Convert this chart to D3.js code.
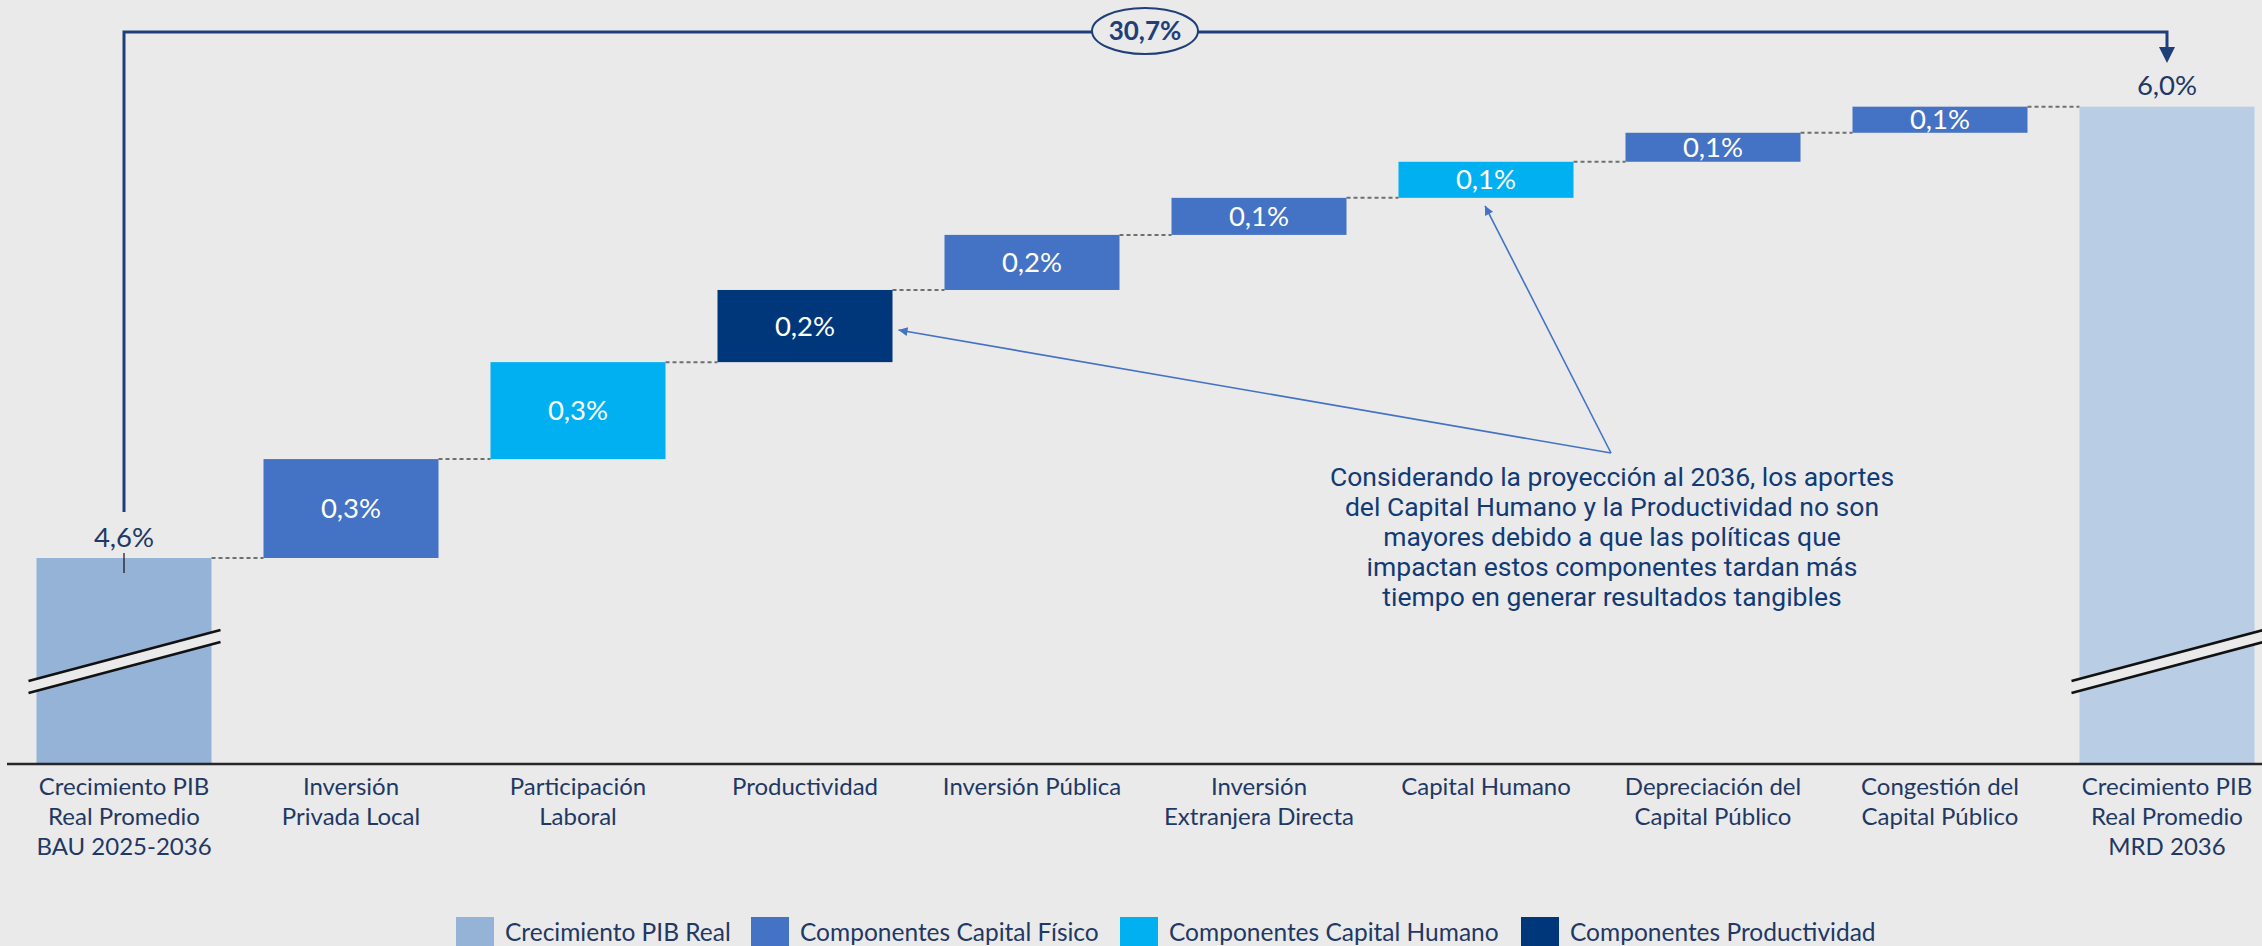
<!DOCTYPE html>
<html>
<head>
<meta charset="utf-8">
<script src="https://cdn.jsdelivr.net/npm/d3@7"></script>
<style>
    body { margin: 0; background: #eaeaea; overflow: hidden; }
    .cat { font-family: Lato, sans-serif; font-size: 24px; fill: #1f3864; }
    .lbl { font-family: Lato, sans-serif; font-size: 27.5px; }
    .leg { font-family: Lato, sans-serif; font-size: 24.5px; fill: #1f3864; }
    .note { font-family: Roboto, sans-serif; font-size: 26.5px; fill: #123a74; }
</style>
</head>
<body>
<svg id="chart"></svg>
<script>
    // chart data
    const categories = [
        ["Crecimiento PIB", "Real Promedio", "BAU 2025-2036"],
        ["Inversión", "Privada Local"],
        ["Participación", "Laboral"],
        ["Productividad"],
        ["Inversión Pública"],
        ["Inversión", "Extranjera Directa"],
        ["Capital Humano"],
        ["Depreciación del", "Capital Público"],
        ["Congestión del", "Capital Público"],
        ["Crecimiento PIB", "Real Promedio", "MRD 2036"]
    ];
    const startValue = 4.6;
    const deltas = [0.307, 0.301, 0.224, 0.171, 0.115, 0.112, 0.090, 0.081];
    const groups = ["pib", "fisico", "humano", "prod", "fisico", "fisico", "humano", "fisico", "fisico", "pib"];
    const legendKeys = ["pib", "fisico", "humano", "prod"];
    const legendLabels = ["Crecimiento PIB Real", "Componentes Capital Físico", "Componentes Capital Humano", "Componentes Productividad"];
    const growthLabel = "30,7%";
    const noteLines = [
        "Considerando la proyección al 2036, los aportes",
        "del Capital Humano y la Productividad no son",
        "mayores debido a que las políticas que",
        "impactan estos componentes tardan más",
        "tiempo en generar resultados tangibles"
    ];

    const width = 2262;
    const height = 946;
    const axisY = 764;
    const bg = "#eaeaea";
    const navy = "#1f3864";

    const colors = {
        pib: "#95b3d7",
        fisico: "#4472c4",
        humano: "#00b0f0",
        prod: "#00377a"
    };

    // build waterfall rows
    let running = startValue;
    const rows = categories.map((c, i) => {
        if (i == 0) return { i: i, lo: null, hi: startValue, v: startValue, total: true };
        if (i == categories.length - 1) return { i: i, lo: null, hi: running, v: running, total: true };
        const d = deltas[i - 1];
        const r = { i: i, lo: running, hi: running + d, v: d, total: false };
        running += d;
        return r;
    });

    const fmt = v => d3.format(".1f")(v).replace(".", ",") + "%";

    const svg = d3.select("#chart").attr("width", width).attr("height", height);
    svg.append("rect").attr("width", width).attr("height", height).attr("fill", bg);

    const defs = svg.append("defs");
    defs.append("marker")
        .attr("id", "tip")
        .attr("viewBox", "0 0 10 10")
        .attr("refX", 10).attr("refY", 5)
        .attr("markerWidth", 10).attr("markerHeight", 9)
        .attr("markerUnits", "userSpaceOnUse")
        .attr("orient", "auto")
        .append("path").attr("d", "M0,0L10,5L0,10Z").attr("fill", "#4472c4");

    const x = d3.scaleBand()
        .domain(d3.range(categories.length))
        .range([10.5, 2280.5])
        .paddingInner(0.229)
        .paddingOuter(0.1145);

    const y = d3.scaleLinear()
        .domain([startValue, 6.0])
        .range([558, 107]);

    // dashed connectors
    svg.selectAll(".conn")
        .data(rows.slice(0, -1))
        .enter().append("line")
        .attr("x1", d => x(d.i) + x.bandwidth())
        .attr("x2", d => x(d.i + 1))
        .attr("y1", d => y(d.hi))
        .attr("y2", d => y(d.hi))
        .attr("stroke", "#6f6f6f")
        .attr("stroke-width", 2)
        .attr("stroke-dasharray", "4,3");

    // bars
    svg.selectAll(".bar")
        .data(rows)
        .enter().append("rect")
        .attr("x", d => x(d.i))
        .attr("width", x.bandwidth())
        .attr("y", d => y(d.hi))
        .attr("height", d => (d.total ? axisY : y(d.lo)) - y(d.hi))
        .attr("fill", (d, i) => i == rows.length - 1 ? "#b9cde5" : colors[groups[i]]);

    // axis break marks on total bars
    rows.filter(d => d.total).forEach(d => {
        const x0 = x(d.i) - 8;
        const g = svg.append("g");
        g.append("path")
            .attr("d", `M${x0},681L${x0 + 192},630L${x0 + 192},642L${x0},693Z`)
            .attr("fill", bg);
        g.append("line").attr("x1", x0).attr("y1", 681).attr("x2", x0 + 192).attr("y2", 630)
            .attr("stroke", "#111").attr("stroke-width", 2.5);
        g.append("line").attr("x1", x0).attr("y1", 693).attr("x2", x0 + 192).attr("y2", 642)
            .attr("stroke", "#111").attr("stroke-width", 2.5);
    });

    // x axis line
    svg.append("line")
        .attr("x1", 7).attr("x2", width)
        .attr("y1", axisY).attr("y2", axisY)
        .attr("stroke", "#262626").attr("stroke-width", 2.5);

    // value labels
    svg.selectAll(".lbl")
        .data(rows)
        .enter().append("text")
        .attr("class", "lbl")
        .attr("text-anchor", "middle")
        .attr("x", d => x(d.i) + x.bandwidth() / 2)
        .attr("y", d => d.total ? y(d.hi) - 21 : (y(d.hi) + y(d.lo)) / 2)
        .attr("dy", "0.35em")
        .attr("fill", d => d.total ? navy : "#fff")
        .text(d => fmt(d.v));

    // small leader under first total label
    svg.append("line")
        .attr("x1", x(0) + x.bandwidth() / 2).attr("x2", x(0) + x.bandwidth() / 2)
        .attr("y1", 553).attr("y2", 573)
        .attr("stroke", "#111").attr("stroke-width", 1.2);

    // category labels
    const cats = svg.selectAll(".cat")
        .data(categories)
        .enter().append("text")
        .attr("class", "cat")
        .attr("text-anchor", "middle")
        .attr("transform", (d, i) => `translate(${x(i) + x.bandwidth() / 2},795)`);
    cats.selectAll("tspan")
        .data(d => d)
        .enter().append("tspan")
        .attr("x", 0)
        .attr("y", (d, i) => i * 30)
        .text(d => d);

    // growth bracket
    const xa = x(0) + x.bandwidth() / 2;
    const xb = x(categories.length - 1) + x.bandwidth() / 2;
    svg.append("path")
        .attr("d", `M${xa},512V32H${xb}V50`)
        .attr("fill", "none")
        .attr("stroke", "#203f78")
        .attr("stroke-width", 3);
    svg.append("path")
        .attr("d", `M${xb - 8},47L${xb + 8},47L${xb},63Z`)
        .attr("fill", "#203f78");
    svg.append("ellipse")
        .attr("cx", 1145).attr("cy", 31)
        .attr("rx", 53).attr("ry", 23)
        .attr("fill", bg)
        .attr("stroke", "#203f78")
        .attr("stroke-width", 2);
    svg.append("text")
        .attr("x", 1145).attr("y", 31)
        .attr("dy", "0.36em")
        .attr("text-anchor", "middle")
        .style("font-family", "Lato, sans-serif")
        .style("font-size", "26px")
        .style("font-weight", "bold")
        .attr("fill", "#203f78")
        .text(growthLabel);

    // annotation
    const hub = [1611, 453];
    const targets = [
        [x(3) + x.bandwidth() + 6, (y(rows[3].hi) + y(rows[3].lo)) / 2 + 4],
        [x(6) + x.bandwidth() / 2 - 1, y(rows[6].lo) + 8]
    ];
    targets.forEach(t => {
        svg.append("line")
            .attr("x1", hub[0]).attr("y1", hub[1])
            .attr("x2", t[0]).attr("y2", t[1])
            .attr("stroke", "#4472c4")
            .attr("stroke-width", 1.6)
            .attr("marker-end", "url(#tip)");
    });

    svg.append("text")
        .attr("class", "note")
        .attr("text-anchor", "middle")
        .selectAll("tspan")
        .data(noteLines)
        .enter().append("tspan")
        .attr("x", 1612)
        .attr("y", (d, i) => 486 + i * 30)
        .text(d => d);

    // legend
    const legX = [456, 751, 1120, 1521];
    const leg = svg.selectAll(".legitem")
        .data(legendKeys)
        .enter().append("g")
        .attr("transform", (d, i) => `translate(${legX[i]},917)`);
    leg.append("rect")
        .attr("width", 38).attr("height", 38)
        .attr("fill", d => colors[d]);
    leg.append("text")
        .attr("class", "leg")
        .attr("x", 49).attr("y", 15)
        .attr("dy", "0.35em")
        .text((d, i) => legendLabels[i]);
</script>
</body>
</html>
